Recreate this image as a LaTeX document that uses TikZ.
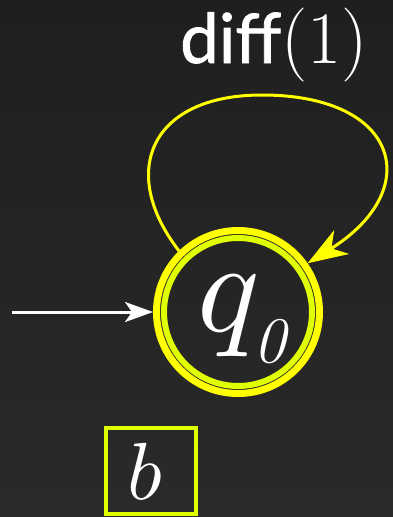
\RequirePackage{fix-cm}
\documentclass[tikz,border=0pt]{standalone}
\usepackage{fontspec}
\setsansfont{Lato}
\newfontfamily\difffont{Lato}[FakeBold=1.2]
\DeclareFontShape{OML}{cmm}{m}{it}{<->cmmi10}{\skewchar\font'177}
\usetikzlibrary{arrows.meta}
\definecolor{bgtop}{HTML}{1F1F1F}
\definecolor{bgbot}{HTML}{2A2A2A}
\definecolor{ringout}{HTML}{FFFF00}
\definecolor{ringin}{HTML}{E0FF00}
\tikzset{
  statering/.style={circle, draw=ringout, line width=7pt, minimum size=163pt, inner sep=0pt},
  looparrow/.style={draw=ringout, line width=3pt, -{Stealth[length=40pt,width=28pt,inset=12pt]}},
  initarrow/.style={draw=white, line width=3pt, -{Stealth[length=28pt,width=20pt,inset=7pt]}},
  boxnode/.style={draw=ringin, line width=4pt, minimum width=90pt, minimum height=86pt, inner sep=0pt, text=white}
}
\begin{document}
\begin{tikzpicture}[x=1pt,y=-1pt]
\shade[top color=bgtop,bottom color=bgbot] (0,0) rectangle (393,517);
\useasboundingbox (0,0) rectangle (393,517);
\node[statering] (q) at (238,312) {};
\draw[ringin, line width=6pt] (q.center) circle[radius=74];
\node[anchor=base west, inner sep=0pt, text=white] (qlbl) at (197,331)
  {\fontsize{130}{130}\selectfont$q$\hspace{-6pt}\raisebox{-31pt}{\fontsize{65}{65}\selectfont\itshape 0}};
\coordinate (start) at (12,312);
\draw[initarrow] (start) -- (q);
\draw[looparrow] (q.134) .. controls (118,172) and (150,95) .. (262,95)
  .. controls (400,95) and (425,190) .. (q.35);
\node[anchor=base west, inner sep=0pt, text=white] (lbl) at (180,63)
  {{\difffont\fontsize{69}{69}\selectfont diff}\fontsize{74}{74}\selectfont(1)};
\node[boxnode] (b) at (151,471) {\hspace{-12pt}\fontsize{81}{81}\selectfont$b$};
\end{tikzpicture}
\end{document}
